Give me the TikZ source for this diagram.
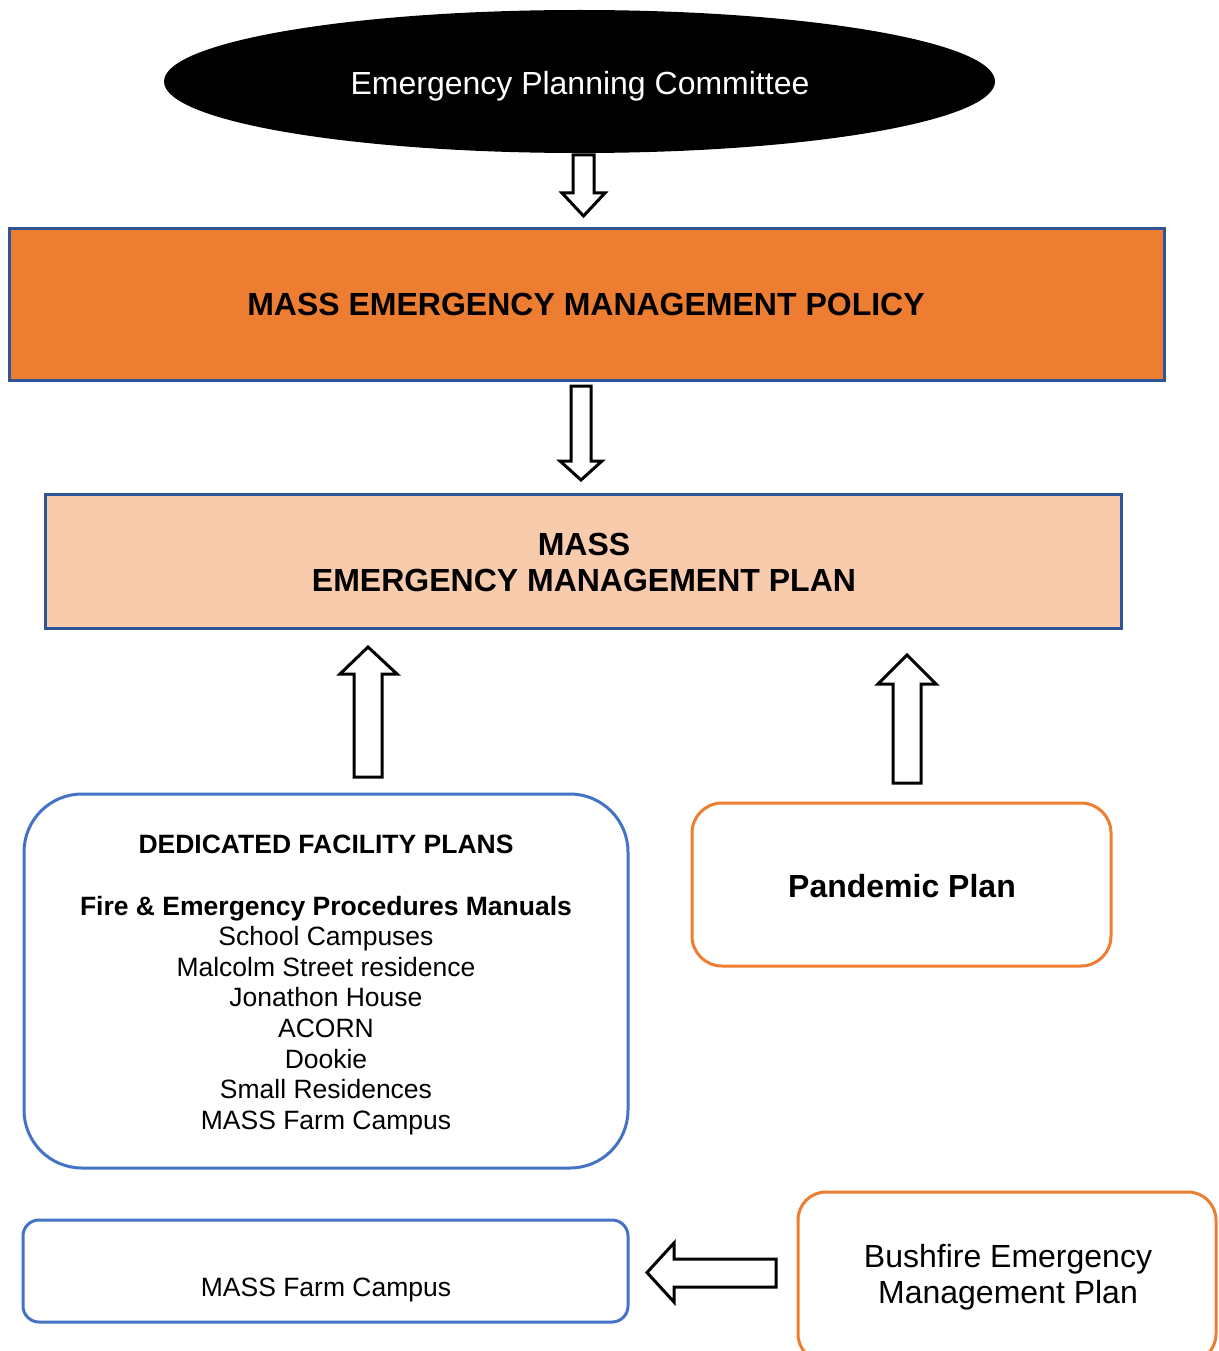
\documentclass[tikz,border=0pt]{standalone}
\usepackage{fontspec}
\setmainfont{Liberation Sans}
\usetikzlibrary{shapes.geometric}
\definecolor{accentorange}{HTML}{ED7D31}
\definecolor{peach}{HTML}{F8CBAD}
\definecolor{darkblue}{HTML}{2F5597}
\definecolor{midblue}{HTML}{4472C4}
\tikzset{
  bigfont/.style={font=\fontsize{32}{36}\selectfont},
  smallfont/.style={font=\fontsize{26.5}{30.6}\selectfont},
  blockarrow/.style={draw=black, fill=white, line width=3pt, line join=miter},
  policybox/.style={draw=darkblue, fill=accentorange, line width=3pt},
  planbox/.style={draw=darkblue, fill=peach, line width=3pt},
  bluebox/.style={draw=midblue, line width=3pt},
  orangebox/.style={draw=accentorange, line width=3pt},
}
\begin{document}
\begin{tikzpicture}[x=1pt,y=-1pt]
\useasboundingbox (0,0) rectangle (1218,1351);

% committee ellipse
\fill[black] (579.5,81.5) ellipse [x radius=415.5, y radius=71.5];
\node[bigfont, text=white] (committee) at (580,86) {Emergency Planning Committee};

% policy and plan bars
\draw[policybox] (9,228) rectangle (1164,380);
\node[bigfont] (policy) at (586,304) {\bfseries MASS EMERGENCY MANAGEMENT POLICY};
\draw[planbox] (45,494) rectangle (1121,628);
\node[bigfont, align=center] (plan) at (584,562) {\bfseries MASS\\\bfseries EMERGENCY MANAGEMENT PLAN};

% facility plans
\draw[bluebox, rounded corners=58pt] (24,794) rectangle (628,1168);
\node[smallfont, align=center] (facility) at (326,985)
  {\bfseries DEDICATED FACILITY PLANS\\[30.6pt]
   \bfseries Fire \& Emergency Procedures Manuals\\
   School Campuses\\
   Malcolm Street residence\\
   Jonathon House\\
   ACORN\\
   Dookie\\
   Small Residences\\
   MASS Farm Campus};

% pandemic plan
\draw[orangebox, rounded corners=30pt] (692,803) rectangle (1111,966);
\node[bigfont] (pandemic) at (902,886) {\bfseries Pandemic Plan};

% farm campus and bushfire plan
\draw[bluebox, rounded corners=16pt] (23,1220) rectangle (628,1322);
\node[smallfont] (farm) at (326,1290) {MASS Farm Campus};
\draw[orangebox, rounded corners=28pt] (798,1192) rectangle (1216,1362);
\node[bigfont, align=center] (bushfire) at (1008,1277) {Bushfire Emergency\\Management Plan};

% block arrows
\draw[blockarrow] (573,155) -- (594,155) -- (594,193) -- (605,193) -- (583.5,216)
  -- (562,193) -- (573,193) -- cycle;
\draw[blockarrow] (571,386) -- (591,386) -- (591,461) -- (602,461) -- (581,480)
  -- (560,461) -- (571,461) -- cycle;
\draw[blockarrow] (354,777) -- (382,777) -- (382,674) -- (397,674) -- (368,647)
  -- (340,674) -- (354,674) -- cycle;
\draw[blockarrow] (893,783) -- (921,783) -- (921,684) -- (936,684) -- (907,655)
  -- (878,684) -- (893,684) -- cycle;
\draw[blockarrow] (776,1259) -- (776,1287) -- (674,1287) -- (674,1302) -- (647,1272.5)
  -- (674,1243) -- (674,1259) -- cycle;
\end{tikzpicture}
\end{document}
